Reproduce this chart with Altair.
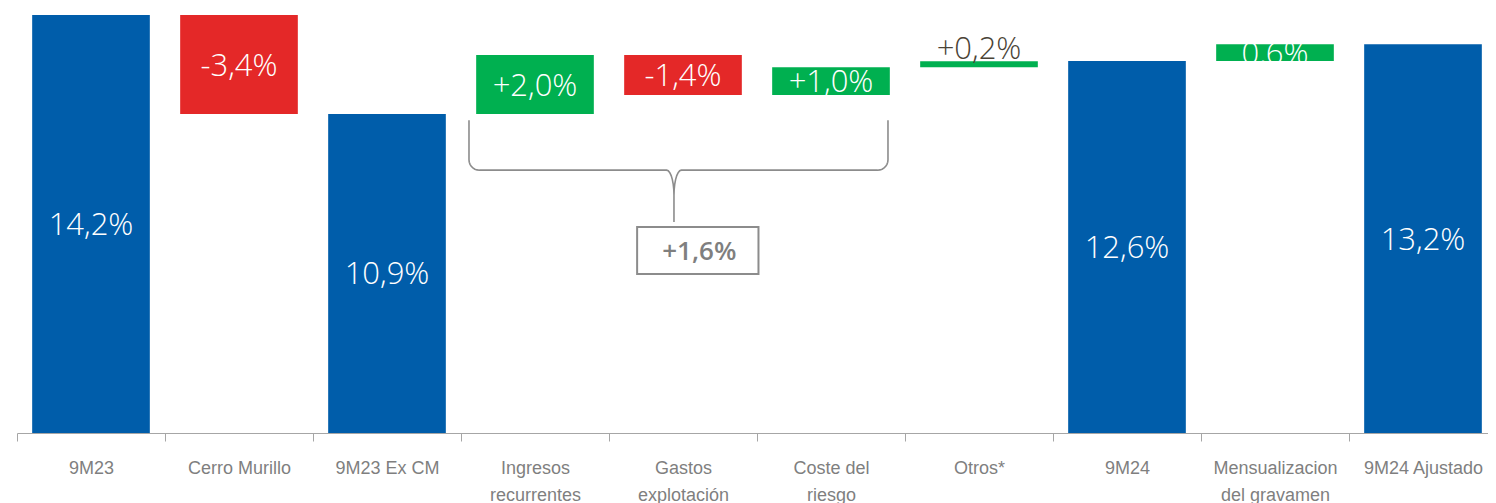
import altair as alt
import pandas as pd
import numpy as np

# ---------------- data ----------------
categories = ["9M23", "Cerro Murillo", "9M23 Ex CM", "Ingresos|recurrentes",
              "Gastos|explotación", "Coste del|riesgo", "Otros*", "9M24",
              "Mensualizacion|del gravamen", "9M24 Ajustado"]
bar_start = [0, 14.2, 0, 10.84, 12.84, 11.48, 12.43, 0, 12.64, 0]
bar_end = [14.2, 10.84, 10.84, 12.84, 11.48, 12.43, 12.63, 12.64, 13.21, 13.21]
bar_kind = ["total", "neg", "total", "pos", "neg", "pos", "pos", "total", "pos", "total"]
bar_labels = ["14,2%", "-3,4%", "10,9%", "+2,0%", "-1,4%", "+1,0%", "+0,2%",
              "12,6%", "0,6%", "13,2%"]
label_place = ["inside", "inside", "inside", "inside", "inside", "inside",
               "above", "inside", "inside", "inside"]

bracket_label = "+1,6%"

BLUE = "#005DAA"
GREEN = "#00B050"
RED = "#E42828"
GREY_TXT = "#7F7F7F"
GREY_LINE = "#A6A6A6"

df = pd.DataFrame({
    "cat": categories,
    "start": bar_start,
    "end": bar_end,
    "kind": bar_kind,
    "label": bar_labels,
    "place": label_place,
})
df["mid"] = (df["start"] + df["end"]) / 2
df["top"] = df[["start", "end"]].max(axis=1)

# ---------------- brace annotation (x in category-index units) ----------------
xl, xc, xr = 3.054, 4.439, 5.885
ytop, yh, ytip = 10.63, 8.93, 7.17
rx1, ry1 = 0.07, 0.35
rx2, ry2 = 0.05, 0.85


def brace_half(xo, d):
    pts = [(xo, ytop)]
    cx, cy = xo - d * rx1, yh + ry1
    for a in np.linspace(0, np.pi / 2, 8):
        pts.append((cx + d * rx1 * np.cos(a), cy - ry1 * np.sin(a)))
    cx, cy = xc + d * rx2, yh - ry2
    for a in np.linspace(np.pi / 2, np.pi, 8):
        pts.append((cx + d * rx2 * np.cos(a), cy + ry2 * np.sin(a)))
    pts.append((xc, ytip))
    return pts


path = brace_half(xl, -1) + brace_half(xr, 1)[::-1]
brace_df = pd.DataFrame({"bx": [p[0] for p in path], "by": [p[1] for p in path],
                         "o": list(range(len(path)))})

box_df = pd.DataFrame({"bx1": [4.19], "bx2": [5.01], "by1": [7.0], "by2": [5.4],
                       "tx": [4.61], "ty": [6.15], "t": [bracket_label]})

# ---------------- chart ----------------
yscale = alt.Scale(domain=[0, 14.44], nice=False, zero=False)
xsort = categories

bars = alt.Chart(df).mark_bar(width=alt.RelativeBandSize(0.795)).encode(
    x=alt.X("cat:N", sort=xsort,
            scale=alt.Scale(paddingInner=0, paddingOuter=0),
            axis=alt.Axis(title=None, labelAngle=0, tickBand="extent", tickSize=8,
                          tickColor=GREY_LINE, domainColor=GREY_LINE,
                          labelColor=GREY_TXT,
                          labelFont="Liberation Sans",
                          labelFontSize=18, labelPadding=18, labelLineHeight=27,
                          labelOverlap=False, labelLimit=0,
                          labelExpr="split(datum.label, '|')")),
    y=alt.Y("start:Q", scale=yscale, axis=None),
    y2="end:Q",
    color=alt.Color("kind:N", scale=alt.Scale(domain=["total", "pos", "neg"],
                                              range=[BLUE, GREEN, RED]), legend=None),
)

inside_txt = alt.Chart(df).transform_filter("datum.place == 'inside'").mark_text(
    font="Open Sans", fontSize=31, fontWeight=300, color="white", baseline="middle", dy=2
).encode(
    x=alt.X("cat:N", sort=xsort),
    y=alt.Y("mid:Q", axis=None),
    text="label:N",
)

above_txt = alt.Chart(df).transform_filter("datum.place == 'above'").mark_text(
    font="Open Sans", fontSize=31, fontWeight=300, color="#4A4336",
    baseline="bottom", dy=5
).encode(
    x=alt.X("cat:N", sort=xsort),
    y=alt.Y("top:Q", axis=None),
    text="label:N",
)

main = alt.layer(bars, inside_txt, above_txt)

bx_scale = alt.Scale(domain=[0, 10], nice=False, zero=False)

brace = alt.Chart(brace_df).mark_line(color="#8C8C8C", strokeWidth=1.6).encode(
    x=alt.X("bx:Q", scale=bx_scale, axis=None),
    y=alt.Y("by:Q", axis=None),
    order="o:Q",
)

box = alt.Chart(box_df).mark_rect(fill="white", stroke="#8C8C8C", strokeWidth=2).encode(
    x=alt.X("bx1:Q", scale=bx_scale, axis=None),
    x2="bx2:Q",
    y=alt.Y("by1:Q", axis=None),
    y2="by2:Q",
)

box_txt = alt.Chart(box_df).mark_text(
    font="Open Sans", fontSize=26, fontWeight=600, color=GREY_TXT, baseline="middle"
).encode(
    x=alt.X("tx:Q", scale=bx_scale, axis=None),
    y=alt.Y("ty:Q", axis=None),
    text="t:N",
)

annot = alt.layer(brace, box, box_txt)

chart = alt.layer(main, annot).resolve_scale(x="independent").properties(
    width=1480, height=425,
    padding={"left": 9, "top": 0, "right": -9, "bottom": 70},
    autosize=alt.AutoSizeParams(type="none"),
).configure_view(stroke=None)

chart.save("out.html", embed_options={"renderer": "svg", "actions": False})
